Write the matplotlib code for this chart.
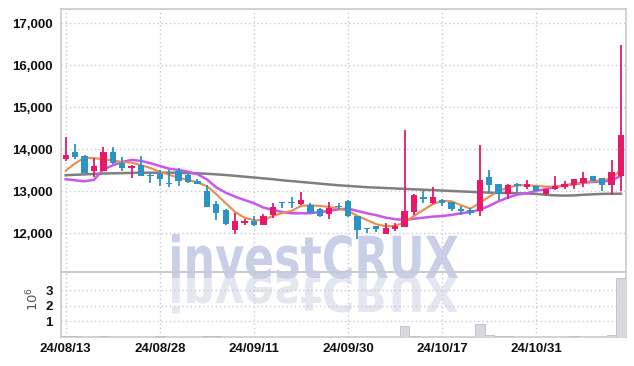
import matplotlib
matplotlib.use('Agg')
import matplotlib.pyplot as plt
from matplotlib.patches import PathPatch
from matplotlib.textpath import TextPath
from matplotlib.font_manager import FontProperties
from matplotlib.transforms import Affine2D
from matplotlib.ticker import FuncFormatter

# ---------------------------------------------------------------- data
tick_pos = [0, 10, 20, 30, 40, 50]
tick_labels = ['24/08/13', '24/08/28', '24/09/11', '24/09/30', '24/10/17', '24/10/31']

opens = [13760, 13940, 13840, 13490, 13480, 13940, 13680, 13540, 13620, 13380,
         13410, 13200, 13480, 13380, 13240, 13000, 12690, 12560, 12070, 12250,
         12290, 12200, 12440, 12750, 12750, 12690, 12670, 12570, 12450, 12650,
         12770, 12410, 12130, 12170, 11990, 12110, 12160, 12510, 12850, 12710,
         12790, 12750, 12570, 12560, 12530, 13340, 13170, 12940, 13180, 13110,
         13130, 12930, 13050, 13090, 13140, 13190, 13370, 13310, 13140, 13360]
highs = [14280, 14120, 13850, 13780, 14040, 14060, 13820, 13620, 13840, 13420,
         13510, 13510, 13540, 13440, 13290, 13140, 12770, 12570, 12480, 12350,
         12400, 12460, 12730, 12750, 12860, 12980, 12710, 12590, 12750, 12710,
         12780, 12420, 12130, 12170, 12250, 12250, 14450, 12930, 13010, 13090,
         12810, 12750, 12650, 12590, 14100, 13510, 13170, 13160, 13200, 13260,
         13130, 13060, 13360, 13250, 13280, 13460, 13370, 13310, 13750, 16480]
lows = [13720, 13760, 13440, 13330, 13480, 13640, 13480, 13310, 13360, 13190,
        13130, 13090, 13130, 13190, 13170, 12630, 12310, 12200, 11980, 12200,
        12170, 12200, 12370, 12590, 12610, 12670, 12480, 12390, 12330, 12560,
        12390, 11870, 12000, 12020, 11980, 12060, 12160, 12430, 12730, 12690,
        12650, 12530, 12430, 12430, 12410, 12970, 12790, 12810, 12970, 13060,
        13010, 12920, 13030, 13060, 13050, 13110, 13240, 13010, 12900, 13010]
closes = [13850, 13820, 13440, 13600, 13940, 13680, 13540, 13600, 13360, 13350,
          13300, 13160, 13250, 13210, 13180, 12630, 12490, 12220, 12290, 12290,
          12200, 12410, 12630, 12710, 12710, 12790, 12480, 12400, 12600, 12620,
          12400, 12080, 12090, 12090, 12130, 12170, 12520, 12900, 12810, 12850,
          12730, 12570, 12520, 12470, 13270, 13150, 12940, 13150, 13130, 13160,
          13010, 13060, 13130, 13180, 13280, 13320, 13250, 13140, 13460, 14330]

ma_short = [13490, 13660, 13800, 13785, 13760, 13730, 13695, 13680, 13620, 13550,
            13460, 13390, 13320, 13270, 13205, 13120, 12930, 12715, 12505, 12370,
            12310, 12310, 12410, 12480, 12530, 12650, 12665, 12650, 12625, 12585,
            12530, 12410, 12315, 12215, 12165, 12175, 12255, 12410, 12555, 12690,
            12770, 12760, 12665, 12585, 12720, 12870, 13005, 13085, 13140, 13140,
            13125, 13110, 13110, 13125, 13165, 13205, 13240, 13260, 13300, 13520]
ma_mid = [13285, 13260, 13235, 13270, 13520, 13615, 13695, 13745, 13720, 13665,
          13600, 13535, 13505, 13465, 13405, 13280, 13090, 12965, 12870, 12790,
          12715, 12610, 12555, 12505, 12475, 12475, 12475, 12505, 12530, 12570,
          12585, 12530, 12475, 12430, 12370, 12335, 12315, 12345, 12370, 12395,
          12410, 12435, 12475, 12505, 12560, 12650, 12760, 12850, 12920, 12950,
          13010, 13050, 13100, 13140, 13170, 13200, 13220, 13230, 13250, 13370]
ma_long = [13380, 13390, 13400, 13410, 13420, 13425, 13430, 13435, 13440, 13440,
           13440, 13440, 13435, 13430, 13425, 13415, 13400, 13385, 13365, 13345,
           13325, 13305, 13285, 13260, 13240, 13220, 13200, 13180, 13160, 13140,
           13125, 13110, 13095, 13085, 13075, 13065, 13055, 13045, 13035, 13025,
           13015, 13005, 12995, 12985, 12975, 12965, 12960, 12955, 12950, 12945,
           12935, 12915, 12900, 12895, 12900, 12915, 12925, 12935, 12940, 12940]

# volume in millions of shares
volume_m = [0.06, 0.04, 0.02, 0.03, 0.05, 0.02, 0.02, 0.02, 0.02, 0.02,
            0.04, 0.02, 0.02, 0.02, 0.02, 0.06, 0.05, 0.02, 0.02, 0.02,
            0.02, 0.02, 0.02, 0.02, 0.02, 0.02, 0.02, 0.02, 0.02, 0.02,
            0.02, 0.03, 0.02, 0.02, 0.02, 0.02, 0.70, 0.07, 0.03, 0.02,
            0.02, 0.02, 0.02, 0.02, 0.83, 0.10, 0.05, 0.05, 0.02, 0.02,
            0.02, 0.02, 0.02, 0.02, 0.04, 0.02, 0.02, 0.02, 0.10, 3.75]

# ---------------------------------------------------------------- style
UP = '#e8186a'
DOWN = '#2b94c4'
GRID = '#c6c9de'
FRAME = '#c9c9cf'
LABEL_FONT = FontProperties(family=['Liberation Sans', 'DejaVu Sans'], weight='bold', size=9.5)

W, H = 634, 366
fig = plt.figure(figsize=(W / 100, H / 100), dpi=100)
ax = fig.add_axes([61 / W, 1 - 272.3 / H, (625.7 - 61) / W, (272.3 - 9) / H])
axv = fig.add_axes([61 / W, 1 - 337 / H, (625.7 - 61) / W, (337 - 272.3) / H])
for a in (ax, axv):
    a.set_facecolor('none')


def watermark(fig):
    """big 'investCRUX' logo with its mirrored reflection, drawn in pixel units"""
    fp = FontProperties(family='DejaVu Sans', weight='bold')
    tp = TextPath((0, 0), 'investCRUX', size=100, prop=fp)
    bb = tp.get_extents()
    x0, x1, ytop, ybase = 172, 458, 234, 278
    sx = (x1 - x0) / bb.width
    sy = (ybase - ytop) / bb.y1
    tr = (Affine2D().translate(-bb.x0, 0).scale(sx, sy).translate(x0, H - ybase)
          .scale(1 / 100) + fig.dpi_scale_trans)
    fig.add_artist(PathPatch(tp, transform=tr, fc='#c9cfe6', ec='none', zorder=-5))
    tr2 = (Affine2D().translate(-bb.x0, 0).scale(sx, -sy * 0.85).translate(x0, H - ybase + 2)
           .scale(1 / 100) + fig.dpi_scale_trans)
    fig.add_artist(PathPatch(tp, transform=tr2, fc='#e4e6f0', ec='none', zorder=-6))


watermark(fig)

x = list(range(len(opens)))
colors = [UP if c >= o else DOWN for o, c in zip(opens, closes)]
bodies = [max(abs(c - o), 25) for o, c in zip(opens, closes)]
bottoms = [min(o, c) for o, c in zip(opens, closes)]

ax.plot(x, ma_long, color='#7f7f7f', lw=1.8, zorder=2)
ax.plot(x, ma_mid, color='#cc55ea', lw=1.8, zorder=2)
ax.plot(x, ma_short, color='#ee8a4e', lw=1.5, zorder=2)
ax.vlines(x, lows, highs, colors=colors, lw=1.3, zorder=3)
ax.bar(x, bodies, bottom=bottoms, width=0.68, color=colors, zorder=4)

axv.bar(x, volume_m, width=1.0, color='#d8d8e0', edgecolor='#bdbdc8', lw=0.6, zorder=3)

# ---------------------------------------------------------------- axes
ax.set_xlim(-0.5, 59.5)
ax.set_ylim(11071, 17333)
axv.set_xlim(-0.5, 59.5)
axv.set_ylim(0, 4.14)

ax.set_yticks([12000, 13000, 14000, 15000, 16000, 17000])
ax.yaxis.set_major_formatter(FuncFormatter(lambda v, p: '{:,.0f}'.format(v)))
axv.set_yticks([1, 2, 3])
for a in (ax, axv):
    a.set_xticks(tick_pos)
    a.grid(True, color=GRID, linestyle=(0, (1, 2)), lw=1.0, zorder=0)
    a.tick_params(length=0, pad=6, labelcolor='#111111')
    for s in a.spines.values():
        s.set_color(FRAME)
        s.set_linewidth(1.2)
    for lab in a.get_yticklabels():
        lab.set_fontproperties(LABEL_FONT)
ax.set_xticklabels([])
axv.set_xticklabels(tick_labels)
axv.tick_params(axis='x', pad=4)
for lab in axv.get_xticklabels():
    lab.set_fontproperties(LABEL_FONT)

fig.text(33 / W, 1 - 299 / H, r'$10^6$', rotation=90, ha='center', va='center',
         fontsize=9.5, color='#555555')

fig.savefig('out.png', dpi=100)
